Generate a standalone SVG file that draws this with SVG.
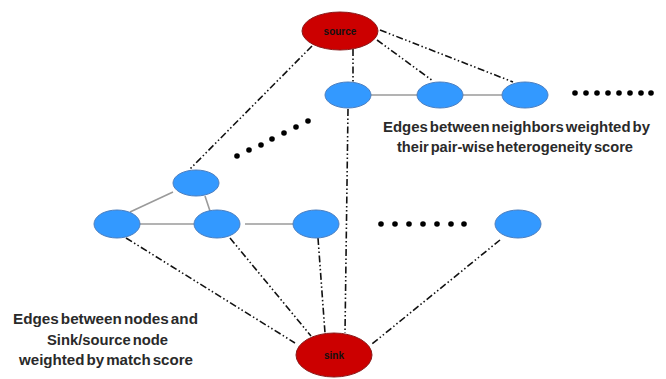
<svg xmlns="http://www.w3.org/2000/svg" width="666" height="379" viewBox="0 0 666 379">
<style>
.bg{fill:#ffffff}
.blue{fill:#3399FF;stroke:#4d7fbf;stroke-width:1}
.red{fill:#CC0000;stroke:#8a1a1a;stroke-width:1}
.dd{stroke:#111;stroke-width:1.6;fill:none;stroke-dasharray:7 2.5 1.5 2.5 1.5 2.5}
.solid{stroke:#9a9a9a;stroke-width:1.6;fill:none}
.lbl{font-family:"Liberation Sans",Arial,sans-serif;font-size:14px;font-weight:bold;fill:#2a2a2a;word-spacing:-2px}
.nl{font-family:"Liberation Sans",Arial,sans-serif;font-size:10px;font-weight:bold;fill:#111;text-anchor:middle}
.dot{fill:#000}
</style>
<rect class="bg" x="0" y="0" width="666" height="379"/>
<g id="connectors">
<line class="dd" x1="312" y1="46" x2="190" y2="169"/>
<line class="dd" x1="353" y1="49" x2="353" y2="82"/>
<line class="dd" x1="377" y1="40" x2="433" y2="81"/>
<line class="dd" x1="380" y1="30" x2="513" y2="82"/>
<line class="dd" x1="348" y1="109" x2="345" y2="333"/>
<line class="dd" x1="126" y1="238" x2="295" y2="343"/>
<line class="dd" x1="230" y1="238" x2="311" y2="336"/>
<line class="dd" x1="318" y1="238" x2="325" y2="333"/>
<line class="dd" x1="500" y1="240" x2="372" y2="344"/>
<line class="solid" x1="371" y1="95" x2="418" y2="95"/>
<line class="solid" x1="463" y1="95" x2="502" y2="95"/>
<line class="solid" x1="173" y1="192" x2="130" y2="212"/>
<line class="solid" x1="205" y1="196" x2="210" y2="211"/>
<line class="solid" x1="140" y1="224" x2="194" y2="224"/>
<line class="solid" x1="245" y1="224" x2="293" y2="224"/>
</g>
<g id="source"><ellipse class="red" cx="340" cy="31" rx="38" ry="19"/><text class="nl" x="340" y="35">source</text></g>
<g id="sink"><ellipse class="red" cx="334" cy="355" rx="38" ry="22"/><text class="nl" x="334" y="359">sink</text></g>
<g id="t1"><ellipse class="blue" cx="348" cy="95" rx="23" ry="13"/></g>
<g id="t2"><ellipse class="blue" cx="440" cy="95" rx="23" ry="13"/></g>
<g id="t3"><ellipse class="blue" cx="525" cy="95" rx="23" ry="13"/></g>
<g id="c1"><ellipse class="blue" cx="196" cy="183" rx="23" ry="13"/></g>
<g id="c2"><ellipse class="blue" cx="117" cy="224" rx="23" ry="14"/></g>
<g id="c3"><ellipse class="blue" cx="217" cy="224" rx="23" ry="14"/></g>
<g id="c4"><ellipse class="blue" cx="316" cy="224" rx="23" ry="14"/></g>
<g id="r1"><ellipse class="blue" cx="518" cy="224" rx="23" ry="14"/></g>
<g id="dots">
<circle class="dot" cx="575" cy="93" r="2.8"/><circle class="dot" cx="586" cy="93" r="2.8"/><circle class="dot" cx="597" cy="93" r="2.8"/><circle class="dot" cx="608" cy="93" r="2.8"/><circle class="dot" cx="619" cy="93" r="2.8"/><circle class="dot" cx="630" cy="93" r="2.8"/><circle class="dot" cx="641" cy="93" r="2.8"/><circle class="dot" cx="651" cy="93" r="2.8"/>
<circle class="dot" cx="381" cy="224" r="2.8"/><circle class="dot" cx="395" cy="224" r="2.8"/><circle class="dot" cx="409" cy="224" r="2.8"/><circle class="dot" cx="423" cy="224" r="2.8"/><circle class="dot" cx="437" cy="224" r="2.8"/><circle class="dot" cx="451" cy="224" r="2.8"/><circle class="dot" cx="464" cy="224" r="2.8"/>
<circle class="dot" cx="237" cy="156" r="2.8"/><circle class="dot" cx="249" cy="150" r="2.8"/><circle class="dot" cx="261" cy="145" r="2.8"/><circle class="dot" cx="272" cy="139" r="2.8"/><circle class="dot" cx="284" cy="133" r="2.8"/><circle class="dot" cx="296" cy="127" r="2.8"/><circle class="dot" cx="308" cy="121" r="2.8"/>
</g>
<g id="labels">
<text class="lbl" x="383" y="132" textLength="267" lengthAdjust="spacingAndGlyphs">Edges between neighbors weighted by</text>
<text class="lbl" x="397" y="152" textLength="236" lengthAdjust="spacingAndGlyphs">their pair-wise heterogeneity score</text>
<text class="lbl" x="13" y="324" textLength="185" lengthAdjust="spacingAndGlyphs">Edges between nodes and</text>
<text class="lbl" x="47" y="345" textLength="121" lengthAdjust="spacingAndGlyphs">Sink/source node</text>
<text class="lbl" x="19" y="365" textLength="174" lengthAdjust="spacingAndGlyphs">weighted by match score</text>
</g>
</svg>
